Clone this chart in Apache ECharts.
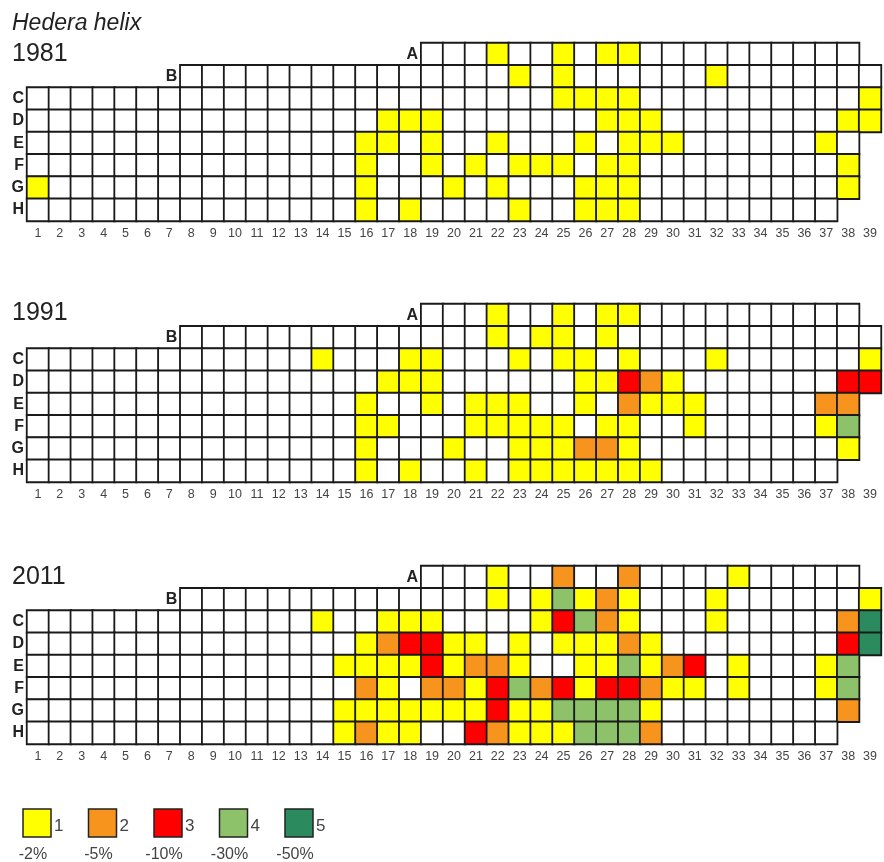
<!DOCTYPE html>
<html><head><meta charset="utf-8">
<script src="https://cdn.jsdelivr.net/npm/echarts@6/dist/echarts.min.js"></script>
<style>html,body{margin:0;padding:0;background:#fff}#c{width:884px;height:862px}</style>
</head><body><div id="c"></div>
<script>
// ---- data ----
const columns = ['1','2','3','4','5','6','7','8','9','10','11','12','13','14','15','16','17','18','19','20',
  '21','22','23','24','25','26','27','28','29','30','31','32','33','34','35','36','37','38','39'];
const rows = ['A','B','C','D','E','F','G','H'];
const rowFirstCol = [19, 8, 1, 1, 1, 1, 1, 1];
const rowLastCol  = [38, 39, 39, 39, 38, 38, 38, 37];
const years = ['1981', '1991', '2011'];

// [column, damage class] per row
const cells1981 = {
  A: [[22,1],[25,1],[27,1],[28,1]],
  B: [[23,1],[25,1],[32,1]],
  C: [[25,1],[26,1],[27,1],[28,1],[39,1]],
  D: [[17,1],[18,1],[19,1],[27,1],[28,1],[29,1],[38,1],[39,1]],
  E: [[16,1],[17,1],[19,1],[22,1],[26,1],[28,1],[29,1],[30,1],[37,1]],
  F: [[16,1],[19,1],[21,1],[23,1],[24,1],[25,1],[27,1],[28,1],[38,1]],
  G: [[1,1],[16,1],[20,1],[22,1],[26,1],[27,1],[28,1],[38,1]],
  H: [[16,1],[18,1],[23,1],[26,1],[27,1],[28,1]]
};
const cells1991 = {
  A: [[22,1],[25,1],[27,1],[28,1]],
  B: [[22,1],[24,1],[25,1],[27,1]],
  C: [[14,1],[18,1],[19,1],[23,1],[25,1],[26,1],[28,1],[32,1],[39,1]],
  D: [[17,1],[18,1],[19,1],[26,1],[27,1],[28,3],[29,2],[30,1],[38,3],[39,3]],
  E: [[16,1],[19,1],[21,1],[22,1],[23,1],[26,1],[28,2],[29,1],[30,1],[31,1],[37,2],[38,2]],
  F: [[16,1],[17,1],[21,1],[22,1],[23,1],[24,1],[25,1],[27,1],[28,1],[31,1],[37,1],[38,4]],
  G: [[16,1],[20,1],[23,1],[24,1],[25,1],[26,2],[27,2],[28,1],[38,1]],
  H: [[16,1],[18,1],[21,1],[23,1],[24,1],[25,1],[26,1],[27,1],[28,1],[29,1]]
};
const cells2011 = {
  A: [[22,1],[25,2],[28,2],[33,1]],
  B: [[22,1],[24,1],[25,4],[26,1],[27,2],[28,1],[32,1],[39,1]],
  C: [[14,1],[17,1],[18,1],[19,1],[24,1],[25,3],[26,4],[27,2],[28,1],[32,1],[38,2],[39,5]],
  D: [[16,1],[17,2],[18,3],[19,3],[20,1],[21,1],[23,1],[25,1],[26,1],[27,1],[28,2],[29,1],[38,3],[39,5]],
  E: [[15,1],[16,1],[17,1],[18,1],[19,3],[20,1],[21,2],[22,2],[23,1],[26,1],[27,1],[28,4],[29,1],[30,2],[31,3],[33,1],[37,1],[38,4]],
  F: [[16,2],[17,1],[19,2],[20,2],[21,1],[22,3],[23,4],[24,2],[25,3],[26,1],[27,3],[28,3],[29,2],[30,1],[31,1],[33,1],[37,1],[38,4]],
  G: [[15,1],[16,1],[17,1],[18,1],[19,1],[20,1],[21,1],[22,3],[23,1],[24,1],[25,4],[26,4],[27,4],[28,4],[29,1],[38,2]],
  H: [[15,1],[16,2],[17,1],[18,1],[21,3],[22,2],[23,1],[24,1],[25,1],[26,4],[27,4],[28,4],[29,2]]
};
const levelColors = ['#ffffff', '#ffff00', '#f7941e', '#ff0000', '#8dc26a', '#2b8a5e'];
const legendLevels = ['1', '2', '3', '4', '5'];
const legendPercents = ['-2%', '-5%', '-10%', '-30%', '-50%'];
const speciesName = 'Hedera helix';

// ---- layout ----
const FONT = '"Liberation Sans", Arial, sans-serif';
const gridTops = [43, 304, 566];
const gridHeight = 178;
const yearLabelY = [54, 313.5, 577];
const allCells = [cells1981, cells1991, cells2011];

function buildData(cells) {
  const out = [];
  rows.forEach((r, ri) => {
    const map = {};
    (cells[r] || []).forEach(([c, v]) => { map[c] = v; });
    for (let c = rowFirstCol[ri]; c <= rowLastCol[ri]; c++) {
      out.push([c - 1, ri, map[c] || 0]);
    }
  });
  return out;
}

const grids = [], xAxes = [], yAxes = [], series = [], heatIdx = [];
gridTops.forEach((top, i) => {
  grids.push({ left: 27, right: 3, top: top, height: gridHeight });
  xAxes.push({
    type: 'category', gridIndex: i, data: columns, position: 'bottom',
    axisLine: { show: false }, axisTick: { show: false }, splitLine: { show: false },
    axisLabel: { interval: 0, margin: 6, fontSize: 12.5, color: '#444', fontFamily: FONT }
  });
  yAxes.push({
    type: 'category', gridIndex: i, data: rows, inverse: true,
    axisLine: { show: false }, axisTick: { show: false }, axisLabel: { show: false }, splitLine: { show: false }
  });
  heatIdx.push(series.length);
  series.push({
    type: 'heatmap', xAxisIndex: i, yAxisIndex: i, data: buildData(allCells[i]),
    itemStyle: { borderColor: '#1a1a1a', borderWidth: 1.8 },
    emphasis: { disabled: true }, silent: true, progressive: 0
  });
  series.push({
    type: 'custom', xAxisIndex: i, yAxisIndex: i, silent: true, clip: false,
    data: rows.map((r, ri) => [rowFirstCol[ri] - 1, ri]),
    renderItem: function (params, api) {
      const p = api.coord([api.value(0), api.value(1)]);
      const s = api.size([1, 1]);
      return {
        type: 'text', x: p[0] - s[0] / 2 - 3, y: p[1],
        style: { text: rows[api.value(1)], fill: '#222', font: 'bold 16px ' + FONT, align: 'right', verticalAlign: 'middle' }
      };
    }
  });
});

const graphics = [
  { type: 'text', left: 12, top: 12, style: { text: speciesName, fill: '#222', font: 'italic 23px ' + FONT } }
];
years.forEach((y, i) => {
  graphics.push({ type: 'text', x: 12, y: yearLabelY[i], style: { text: y, fill: '#222', font: '25px ' + FONT, verticalAlign: 'middle' } });
});
legendLevels.forEach((lv, i) => {
  const bx = 23 + i * 65.5;
  graphics.push({ type: 'rect', shape: { x: bx, y: 809, width: 28, height: 28 }, style: { fill: levelColors[i + 1], stroke: '#222', lineWidth: 1.5 } });
  graphics.push({ type: 'text', x: bx + 31, y: 826, style: { text: lv, fill: '#444', font: '17px ' + FONT, verticalAlign: 'middle' } });
  graphics.push({ type: 'text', x: bx + 10, y: 855, style: { text: legendPercents[i], fill: '#444', font: '16px ' + FONT, align: 'center', verticalAlign: 'middle' } });
});

const chart = echarts.init(document.getElementById('c'), null, { renderer: 'canvas' });
chart.setOption({
  animation: false,
  backgroundColor: '#ffffff',
  grid: grids, xAxis: xAxes, yAxis: yAxes, series: series,
  visualMap: {
    type: 'piecewise', show: false, dimension: 2, seriesIndex: heatIdx,
    pieces: levelColors.map((c, i) => ({ value: i, color: c }))
  },
  graphic: graphics
});
</script></body></html>
